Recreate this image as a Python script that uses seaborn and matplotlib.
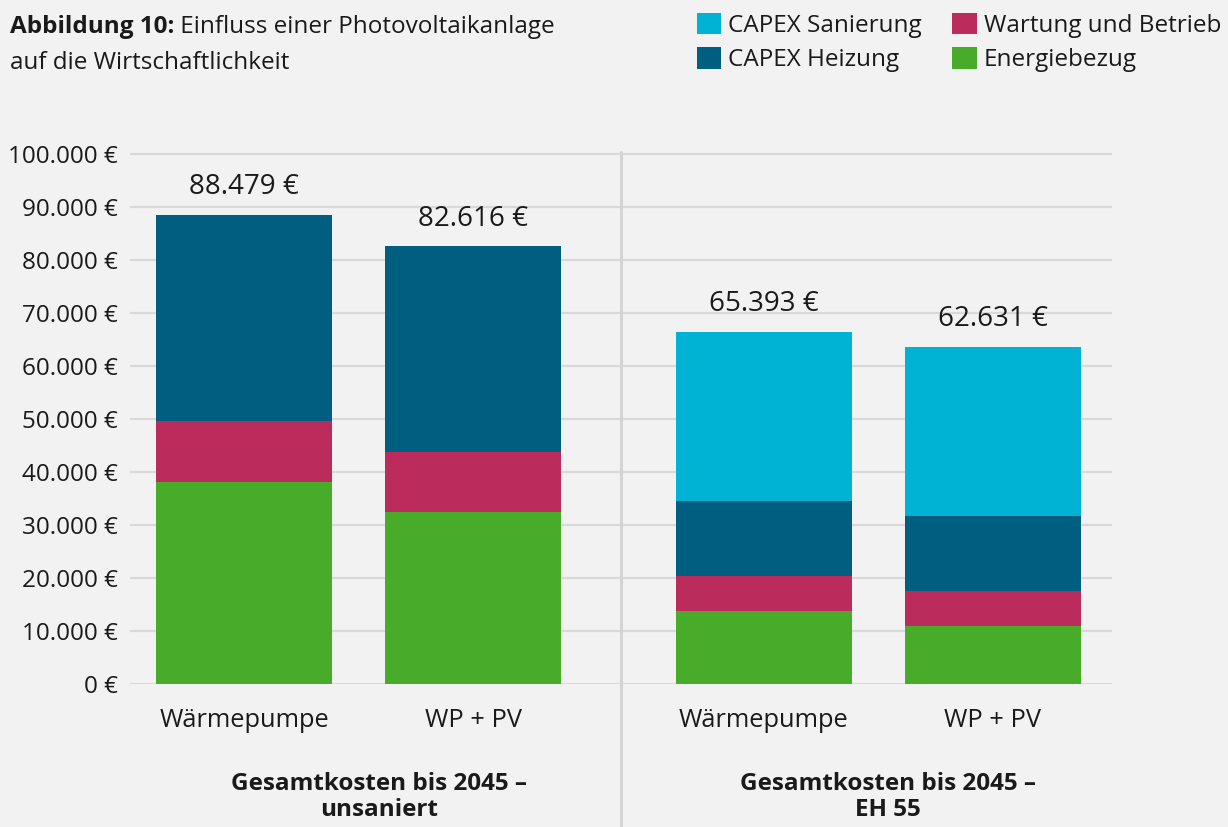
import pandas as pd
import matplotlib
matplotlib.use('Agg')
import matplotlib.pyplot as plt
from matplotlib.patches import Patch
from matplotlib.lines import Line2D
from matplotlib.ticker import FuncFormatter, MultipleLocator
import seaborn as sns

# --- data ---
varianten = ['Wärmepumpe', 'WP + PV']
szenarien = ['Gesamtkosten bis 2045 –\nunsaniert', 'Gesamtkosten bis 2045 –\nEH 55']

# one value per bar: unsaniert/WP, unsaniert/WP+PV, EH55/WP, EH55/WP+PV
energiebezug = [38200, 32400, 13750, 10900]
wartung_betrieb = [11400, 11400, 6650, 6700]
capex_heizung = [38900, 38800, 14100, 14100]
capex_sanierung = [0, 0, 31900, 31900]
gesamt_labels = [88479, 82616, 65393, 62631]

komponenten = ['Energiebezug', 'Wartung und Betrieb', 'CAPEX Heizung', 'CAPEX Sanierung']
farben = {
    'CAPEX Sanierung': '#00b2d4',
    'CAPEX Heizung': '#005e80',
    'Wartung und Betrieb': '#bb2b5c',
    'Energiebezug': '#49ab2a',
}

BG = '#f2f2f2'
GRID = '#d9d9d9'
TXT = '#1a1a1a'
FS = 17.5


def euro(v, pos=None):
    return f"{v:,.0f}".replace(',', '.') + ' €'


def build_frame():
    rows = []
    werte = dict(zip(komponenten, [energiebezug, wartung_betrieb, capex_heizung, capex_sanierung]))
    for i in range(4):
        for k in komponenten:
            rows.append({
                'szenario': szenarien[i // 2],
                'variante': varianten[i % 2],
                'komponente': k,
                'wert': werte[k][i],
                'label': gesamt_labels[i],
            })
    df = pd.DataFrame(rows)
    df['kumuliert'] = df.groupby(['szenario', 'variante'])['wert'].cumsum()
    return df


sns.set_theme(style='white')
# Open Sans ships a real bold face here, Noto Sans does not
plt.rcParams['font.family'] = ['Open Sans', 'DejaVu Sans']
plt.rcParams['text.color'] = TXT
plt.rcParams['axes.labelcolor'] = TXT
plt.rcParams['xtick.color'] = TXT
plt.rcParams['ytick.color'] = TXT

df = build_frame()

fig = plt.figure(figsize=(12.28, 8.27), dpi=100, facecolor=BG)
W, H = 1228, 827
ax_bottom = (H - 684) / H
ax_height = (684 - 152) / H
ax1 = fig.add_axes([130 / W, ax_bottom, 491 / W, ax_height])
ax2 = fig.add_axes([621 / W, ax_bottom, 491 / W, ax_height], sharey=ax1)

xlims = [(-0.498, 1.646), (-0.624, 1.52)]
label_x = [379 / W, 888 / W]

for ax, szen, xl, lx in zip([ax1, ax2], szenarien, xlims, label_x):
    ax.set_facecolor(BG)
    sub = df[df['szenario'] == szen]
    # draw from the top of the stack down so lower segments sit on top
    for k in reversed(komponenten):
        part = sub[sub['komponente'] == k]
        if part['wert'].sum() == 0:
            continue
        sns.barplot(data=part, x='variante', y='kumuliert', order=varianten,
                    color=farben[k], saturation=1, width=0.7686,
                    linewidth=0, ax=ax)
    tops = sub.groupby('variante', sort=False)['kumuliert'].max()
    labs = sub.groupby('variante', sort=False)['label'].first()
    for i, v in enumerate(varianten):
        ax.annotate(euro(labs[v]), xy=(i, tops[v]), xytext=(0, 20),
                    textcoords='offset points', ha='center', va='center',
                    fontsize=20, color=TXT)
    ax.set_xlim(*xl)
    ax.set_xlabel('')
    ax.set_ylabel('')
    ax.yaxis.set_major_locator(MultipleLocator(10000))
    ax.grid(axis='y', color=GRID, linewidth=1.6)
    ax.grid(axis='x', visible=False)
    ax.set_axisbelow(True)
    for s in ax.spines.values():
        s.set_visible(False)
    ax.tick_params(axis='x', length=0, pad=17, labelsize=18.3)
    ax.tick_params(axis='y', length=0, pad=9, labelsize=FS)
    fig.text(lx, 1 - 797 / H, szen, ha='center', va='center', fontsize=FS,
             fontweight='bold', linespacing=1.15, color=TXT)

ax1.set_ylim(0, 100400)
ax1.yaxis.set_major_formatter(FuncFormatter(euro))
ax2.tick_params(axis='y', labelleft=False)

# vertical separator between the two scenarios
fig.add_artist(Line2D([621 / W, 621 / W], [0, 1 - 152 / H], color='#d4d4d4',
                      linewidth=2.2, transform=fig.transFigure))

# title: bold figure number, then regular text
t1 = fig.text(10 / W, 1 - 27 / H, 'Abbildung 10:', fontsize=FS,
              fontweight='bold', va='center', ha='left', color=TXT)
fig.text(10 / W, 1 - 63 / H, 'auf die Wirtschaftlichkeit', fontsize=FS,
         va='center', ha='left', color=TXT)
plt.annotate(' Einfluss einer Photovoltaikanlage', xy=(1, 0), xycoords=t1,
             va='bottom', ha='left', fontsize=FS, color=TXT,
             annotation_clip=False)

# legend
leg_order = ['CAPEX Sanierung', 'CAPEX Heizung', 'Wartung und Betrieb', 'Energiebezug']
handles = [Patch(facecolor=farben[k], edgecolor='none', label=k) for k in leg_order]
fig.legend(handles=handles, ncol=2, loc='upper left',
           bbox_to_anchor=(687 / W, 1 - 3 / H), frameon=False, fontsize=FS,
           handlelength=1.0, handleheight=1.0, handletextpad=0.3,
           columnspacing=1.25, labelspacing=0.38, borderaxespad=0)

fig.savefig('out.png', dpi=100, facecolor=BG)
